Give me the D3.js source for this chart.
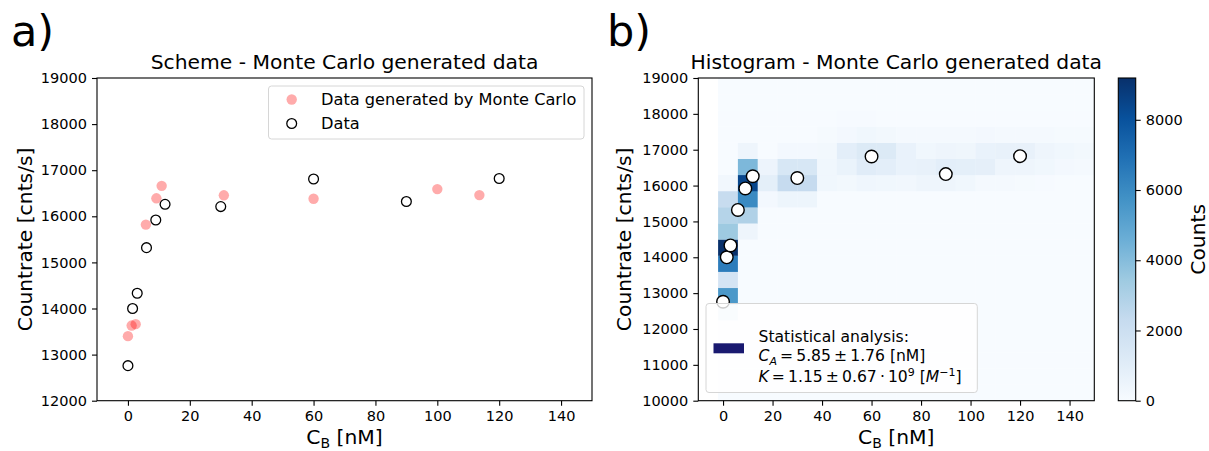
<!DOCTYPE html>
<html>
<head>
<meta charset="utf-8">
<script src="https://cdn.jsdelivr.net/npm/d3@7"></script>
<style>
  body { margin: 0; background: #fff; }
  text { font-family: "DejaVu Sans", sans-serif; fill: #000; }
</style>
</head>
<body>
<svg id="chart" width="1209" height="451"></svg>
<script>
// measured data (black open circles)
const concData = [0, 1.5, 3, 6, 9, 12, 30, 60, 90, 120];
const rateData = [12760, 14000, 14330, 15320, 15920, 16260, 16210, 16810, 16320, 16820];

// one Monte Carlo draw (red dots)
const concMC = [0, 1.2, 2.5, 5.8, 9.2, 10.9, 31, 60, 100, 113.6];
const rateMC = [13400, 13630, 13660, 15820, 16390, 16660, 16455, 16380, 16590, 16460];

// 2d histogram of all Monte Carlo draws
const xBinEdges = [-2, 6, 14, 22, 30, 38, 46, 54, 62, 70, 78, 86, 94, 102, 110, 118, 126, 134, 142, 150];
const yBinEdges = [10000, 10450, 10900, 11350, 11800, 12250, 12700, 13150, 13600, 14050, 14500,
  14950, 15400, 15850, 16300, 16750, 17200, 17650, 18100, 18550, 19000];
// rows go from the lowest countrate bin upwards, 19 columns each
const binCounts = [
  [0,0,0,0,0,0,0,0,0,0,0,0,0,0,0,0,0,0,0],
  [0,0,0,0,0,0,0,0,0,0,0,0,0,0,0,0,0,0,0],
  [0,0,0,0,0,0,0,0,0,0,0,0,0,0,0,0,0,0,0],
  [0,0,0,0,0,0,0,0,0,0,0,0,0,0,0,0,0,0,0],
  [0,0,0,0,0,0,0,0,0,0,0,0,0,0,0,0,0,0,0],
  [1000,0,0,0,0,0,0,0,0,0,0,0,0,0,0,0,0,0,0],
  [5500,0,0,0,0,0,0,0,0,0,0,0,0,0,0,0,0,0,0],
  [1650,0,0,0,0,0,0,0,0,0,0,0,0,0,0,0,0,0,0],
  [6520,0,0,0,0,0,0,0,0,0,0,0,0,0,0,0,0,0,0],
  [9190,0,0,0,0,0,0,0,0,0,0,0,0,0,0,0,0,0,0],
  [3450,410,0,0,0,0,0,0,0,0,0,0,0,0,0,0,0,0,0],
  [2790,2940,0,0,0,0,0,0,0,0,0,0,0,0,0,0,0,0,0],
  [2250,6020,200,450,450,0,0,0,0,0,0,0,0,0,0,0,0,0,0],
  [280,8430,880,2300,2300,300,250,350,320,280,410,410,320,150,150,100,50,0,0],
  [0,4190,470,1470,1470,300,600,1060,920,640,690,920,870,830,410,410,320,180,150],
  [0,410,0,200,200,250,920,1240,1240,640,320,410,370,640,690,690,410,320,230],
  [0,0,0,0,0,100,200,300,250,150,150,150,150,200,150,150,150,100,100],
  [0,0,0,0,0,0,50,50,0,0,0,0,0,0,0,0,0,0,0],
  [0,0,0,0,0,0,0,0,0,0,0,0,0,0,0,0,0,0,0],
  [0,0,0,0,0,0,0,0,0,0,0,0,0,0,0,0,0,0,0]
];

const xTicks = [0, 20, 40, 60, 80, 100, 120, 140];
const yTicksA = [12000, 13000, 14000, 15000, 16000, 17000, 18000, 19000];
const yTicksB = [10000, 11000, 12000, 13000, 14000, 15000, 16000, 17000, 18000, 19000];
const cbTicks = [0, 2000, 4000, 6000, 8000];
const bluesStops = ['#f7fbff', '#deebf7', '#c6dbef', '#9ecae1', '#6baed6', '#4292c6', '#2171b5', '#08519c', '#08306b'];

const svg = d3.select('#chart');
const tickFont = '14.5px';
const labelFont = '20.3px';

function styleAxis(g) {
  g.selectAll('path').remove();
  g.selectAll('line').attr('stroke', '#000').attr('stroke-width', 1.1);
  g.selectAll('text').style('font-size', tickFont).attr('fill', '#000');
}

function frame(box) {
  svg.append('rect')
    .attr('x', box.x0).attr('y', box.y0)
    .attr('width', box.x1 - box.x0).attr('height', box.y1 - box.y0)
    .attr('fill', 'none').attr('stroke', '#000').attr('stroke-width', 1.1);
}

// ---------- panel a ----------
const boxA = { x0: 97, x1: 592, y0: 78, y1: 400.7 };
let xA = d3.scaleLinear().domain([-10, 150]).range([boxA.x0, boxA.x1]);
let yA = d3.scaleLinear().domain([12000, 19000]).range([boxA.y1, boxA.y0]);

svg.append('g').attr('transform', `translate(0,${boxA.y1})`)
  .call(d3.axisBottom(xA).tickValues(xTicks).tickSize(5).tickPadding(5))
  .call(styleAxis);
svg.append('g').attr('transform', `translate(${boxA.x0},0)`)
  .call(d3.axisLeft(yA).tickValues(yTicksA).tickFormat(d3.format('d')).tickSize(5).tickPadding(5))
  .call(styleAxis);

svg.append('g').selectAll('circle').data(concMC).join('circle')
  .attr('cx', d => xA(d))
  .attr('cy', (d, i) => yA(rateMC[i]))
  .attr('r', 5.2)
  .attr('fill', 'red').attr('fill-opacity', 0.33);

svg.append('g').selectAll('circle').data(concData).join('circle')
  .attr('cx', d => xA(d))
  .attr('cy', (d, i) => yA(rateData[i]))
  .attr('r', 4.9)
  .attr('fill', 'none').attr('stroke', '#000').attr('stroke-width', 1.3);

frame(boxA);

// legend a
let legA = svg.append('g');
legA.append('rect').attr('x', 268.5).attr('y', 86).attr('width', 315.5).attr('height', 53)
  .attr('rx', 3).attr('fill', '#fff').attr('fill-opacity', 0.8)
  .attr('stroke', '#d6d6d6').attr('stroke-width', 1);
legA.append('circle').attr('cx', 291.7).attr('cy', 99.5).attr('r', 5.2)
  .attr('fill', 'red').attr('fill-opacity', 0.33);
legA.append('circle').attr('cx', 291.7).attr('cy', 123.5).attr('r', 4.9)
  .attr('fill', 'none').attr('stroke', '#000').attr('stroke-width', 1.3);
legA.append('text').attr('x', 321).attr('y', 105).style('font-size', '16.2px')
  .text('Data generated by Monte Carlo');
legA.append('text').attr('x', 321).attr('y', 129).style('font-size', '16.2px')
  .text('Data');

svg.append('text').attr('x', (boxA.x0 + boxA.x1) / 2).attr('y', 69)
  .attr('text-anchor', 'middle').style('font-size', labelFont)
  .text('Scheme - Monte Carlo generated data');

// ---------- panel b ----------
const boxB = { x0: 698.3, x1: 1094.3, y0: 78, y1: 400.7 };
let xB = d3.scaleLinear().domain([-10, 150]).range([boxB.x0, boxB.x1]);
let yB = d3.scaleLinear().domain([10000, 19000]).range([boxB.y1, boxB.y0]);

const vmax = d3.max(binCounts.flat());
let color = d3.scaleLinear()
  .domain(bluesStops.map((c, i) => i / (bluesStops.length - 1) * vmax))
  .range(bluesStops);

let cells = [];
binCounts.forEach((row, r) => {
  row.forEach((count, c) => {
    cells.push({ x0: xBinEdges[c], x1: xBinEdges[c + 1], y0: yBinEdges[r], y1: yBinEdges[r + 1], count });
  });
});

svg.append('g').selectAll('rect').data(cells).join('rect')
  .attr('x', d => xB(d.x0))
  .attr('y', d => yB(d.y1))
  .attr('width', d => xB(d.x1) - xB(d.x0) + 0.3)
  .attr('height', d => yB(d.y0) - yB(d.y1) + 0.3)
  .attr('fill', d => color(d.count));

svg.append('g').attr('transform', `translate(0,${boxB.y1})`)
  .call(d3.axisBottom(xB).tickValues(xTicks).tickSize(5).tickPadding(5))
  .call(styleAxis);
svg.append('g').attr('transform', `translate(${boxB.x0},0)`)
  .call(d3.axisLeft(yB).tickValues(yTicksB).tickFormat(d3.format('d')).tickSize(5).tickPadding(5))
  .call(styleAxis);

svg.append('g').selectAll('circle').data(concData).join('circle')
  .attr('cx', d => xB(d))
  .attr('cy', (d, i) => yB(rateData[i]))
  .attr('r', 6.3)
  .attr('fill', '#fff').attr('stroke', '#000').attr('stroke-width', 1.4);

frame(boxB);

// legend b
const legFont = '15.6px';
const supFont = '11px';
let legB = svg.append('g');
legB.append('rect').attr('x', 706).attr('y', 303.5).attr('width', 271.3).attr('height', 89)
  .attr('rx', 3).attr('fill', '#fff').attr('fill-opacity', 0.8)
  .attr('stroke', '#d6d6d6').attr('stroke-width', 1);
legB.append('rect').attr('x', 713.5).attr('y', 343.3).attr('width', 30.5).attr('height', 10)
  .attr('fill', '#191970');
legB.append('text').attr('x', 758.5).attr('y', 342).style('font-size', legFont)
  .text('Statistical analysis:');
let l2 = legB.append('text').attr('x', 758.5).attr('y', 361).style('font-size', legFont);
l2.append('tspan').attr('font-style', 'italic').text('C');
l2.append('tspan').attr('font-style', 'italic').attr('dy', 3.5).style('font-size', supFont).text('A');
l2.append('tspan').attr('dy', -3.5).text('\u2009=\u20095.85\u2009\u00b1\u20091.76 [nM]');
let l3 = legB.append('text').attr('x', 758.5).attr('y', 382).style('font-size', legFont);
l3.append('tspan').attr('font-style', 'italic').text('K');
l3.append('tspan').text('\u2009=\u20091.15\u2009\u00b1\u20090.67\u2009\u00b7\u200910');
l3.append('tspan').attr('dy', -6.5).style('font-size', supFont).text('9');
l3.append('tspan').attr('dy', 6.5).text(' [');
l3.append('tspan').attr('font-style', 'italic').text('M');
l3.append('tspan').attr('dy', -6.5).style('font-size', supFont).text('\u22121');
l3.append('tspan').attr('dy', 6.5).text(']');

svg.append('text').attr('x', (boxB.x0 + boxB.x1) / 2).attr('y', 69)
  .attr('text-anchor', 'middle').style('font-size', labelFont)
  .text('Histogram - Monte Carlo generated data');

// colorbar
const cb = { x0: 1118.3, x1: 1135.7, y0: 78, y1: 400.7 };
let yCb = d3.scaleLinear().domain([0, vmax]).range([cb.y1, cb.y0]);
let grad = svg.append('defs').append('linearGradient').attr('id', 'blues')
  .attr('x1', 0).attr('y1', 1).attr('x2', 0).attr('y2', 0);
bluesStops.forEach((c, i) => {
  grad.append('stop').attr('offset', i / (bluesStops.length - 1)).attr('stop-color', c);
});
svg.append('rect').attr('x', cb.x0).attr('y', cb.y0)
  .attr('width', cb.x1 - cb.x0).attr('height', cb.y1 - cb.y0)
  .attr('fill', 'url(#blues)').attr('stroke', '#000').attr('stroke-width', 1.1);
svg.append('g').attr('transform', `translate(${cb.x1},0)`)
  .call(d3.axisRight(yCb).tickValues(cbTicks).tickFormat(d3.format('d')).tickSize(5).tickPadding(5))
  .call(styleAxis);

// axis labels
function xLabel(cx) {
  let t = svg.append('text').attr('x', cx).attr('y', 444).attr('text-anchor', 'middle')
    .style('font-size', labelFont);
  t.append('tspan').text('C');
  t.append('tspan').attr('dy', 3.5).style('font-size', '14px').text('B');
  t.append('tspan').attr('dy', -3.5).text(' [nM]');
}
xLabel((boxA.x0 + boxA.x1) / 2);
xLabel((boxB.x0 + boxB.x1) / 2);

function yLabel(cx, txt) {
  svg.append('text').attr('transform', `translate(${cx},${(boxA.y0 + boxA.y1) / 2}) rotate(-90)`)
    .attr('text-anchor', 'middle').attr('dy', '0.35em').style('font-size', labelFont)
    .text(txt);
}
yLabel(25, 'Countrate [cnts/s]');
yLabel(624, 'Countrate [cnts/s]');
yLabel(1198, 'Counts');

// panel letters
svg.append('text').attr('x', 11).attr('y', 46).style('font-size', '43px').text('a)');
svg.append('text').attr('x', 607).attr('y', 46).style('font-size', '43px').text('b)');
</script>
</body>
</html>
